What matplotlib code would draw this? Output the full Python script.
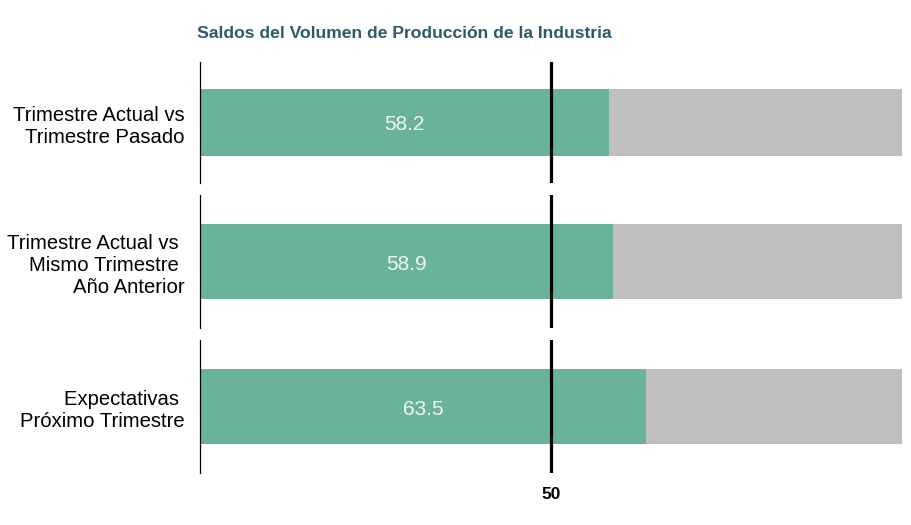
import matplotlib.pyplot as plt

plt.rcParams['font.family'] = ['Liberation Sans', 'DejaVu Sans']

categorias = ["Trimestre Actual vs\nTrimestre Pasado",
              "Trimestre Actual vs \nMismo Trimestre \nAño Anterior",
              "Expectativas \nPróximo Trimestre"]
valores = [58.2, 58.9, 63.5]
total = 100
umbral = 50
titulo = "Saldos del Volumen de Producción de la Industria"

verde = "#69b398"
gris = "#bfbfbf"

fig = plt.figure(figsize=(9.12, 5.25), dpi=100)
# panel rects (left, bottom, width, height) in figure fraction
rects = [(0.2193, 0.6514, 0.7697, 0.2305),
         (0.2193, 0.3752, 0.7697, 0.2533),
         (0.2193, 0.0990, 0.7697, 0.2533)]

for i, (cat, val) in enumerate(zip(categorias, valores)):
    ax = fig.add_axes(rects[i])
    ax.barh(0, total, height=0.56, color=gris)
    ax.barh(0, val, height=0.56, color=verde)
    ax.axvline(umbral, color="black", lw=2.3)
    ax.text(val / 2, -0.02, f"{val}", ha="center", va="center",
            color="#f4f4f4", fontsize=15)
    ax.set_xlim(0, total)
    ax.set_ylim(-0.5, 0.5)
    for s in ["top", "right", "bottom"]:
        ax.spines[s].set_visible(False)
    ax.spines["left"].set_linewidth(0.9)
    ax.set_yticks([0])
    ax.set_yticklabels([cat], fontsize=14.6, linespacing=1.2)
    ax.tick_params(axis="y", length=0, pad=11)
    if i == len(categorias) - 1:
        ax.set_xticks([umbral])
        ax.set_xticklabels([str(umbral)], fontsize=12.5, fontweight="bold")
        ax.tick_params(axis="x", length=0, pad=10)
    else:
        ax.set_xticks([])

fig.text(0.216, 0.937, titulo, ha="left", va="center",
         fontsize=12.6, fontweight="bold", color="#2b5b6b")

fig.savefig("out.png", dpi=100)
